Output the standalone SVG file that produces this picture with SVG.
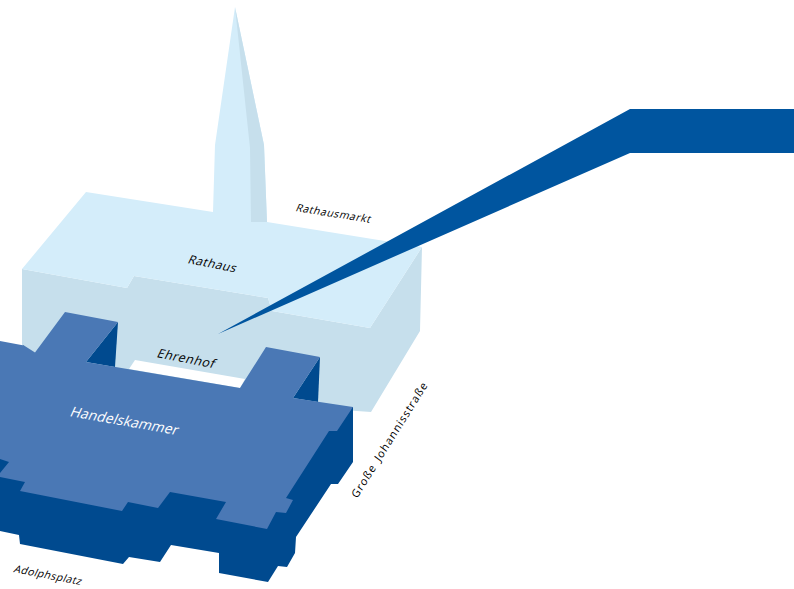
<svg xmlns="http://www.w3.org/2000/svg" width="794" height="589" viewBox="0 0 794 589">
<style>
.light{fill:#d4edfa}.side{fill:#c6dfec}.top{fill:#4a78b5}.dark{fill:#004a8f}.white{fill:#fff}
text{font-family:"Open Sans","Noto Sans",sans-serif;fill:#000}
.s{font-size:10.5px}.m{font-size:12.5px}
</style>
<rect width="794" height="589" fill="#fff"/>
<g id="rathaus">
<polygon class="side" points="22,269 127,288 134,276 268,298 272,311 370,328 422,247 420,331 371,412 200,400 22,352"/>
<polygon class="light" points="86,192 213,212 215,145 235,7 264,145 267,222 422,247 370,328 272,311 268,298 134,276 127,288 22,269"/>
<polygon class="side" points="235,7 264,145 267,222 251,222 250,148"/>
<text class="s" style="font-size:12px;letter-spacing:.5px" transform="translate(187,263) rotate(11) skewX(-15)">Rathaus</text>
</g>
<g id="ehrenhof">
<polygon class="white" points="129,369 135,360 245,379 240,388"/>
<text class="m" style="letter-spacing:.6px" transform="translate(156,357) rotate(11) skewX(-15)">Ehrenhof</text>
</g>
<g id="handelskammer">
<polygon class="dark" points="353,407 353,462 338,484 331,484 296,537 295,553 287,567 278,566 268,582 219,573 219,553 171,545 160,562 129,557 123,564 20,544 19,535 0,531 0,455 100,430"/>
<polygon class="dark" points="20,350 24,345 24,352"/>
<polygon class="dark" points="118,322 86,362 115,367"/>
<polygon class="dark" points="320,357 293,398 318,402"/>
<polygon class="top" points="0,341 24,345.500 35,352.500 65,312 118,322 86,362 240,388 266,347 320,357 293,398 353,407 337,431 329,431 286,498 293,500 286,513 276,512 267,529 216,519 226,502 170,492 158,508 128,502 122,511 20,491 25,482 0,477 0,473 9,462 0,459"/>
<text style="fill:#fff;font-size:14px;letter-spacing:.1px" transform="translate(69,416) rotate(10) skewX(-15)">Handelskammer</text>
</g>
<g id="connectors">
<polygon fill="#00559f" points="218,334 630,109 794,109 794,153 630,153"/>
</g>
<g id="streets">
<text class="s" style="letter-spacing:.6px" transform="translate(295,211) rotate(9) skewX(-15)">Rathausmarkt</text>
<text class="s" style="font-size:11px;letter-spacing:1.05px;word-spacing:2px" transform="translate(357,499) rotate(-58) skewX(-5)">Große Johannisstraße</text>
<text class="s" style="letter-spacing:.45px" transform="translate(13,572) rotate(11) skewX(-15)">Adolphsplatz</text>
</g>
</svg>
